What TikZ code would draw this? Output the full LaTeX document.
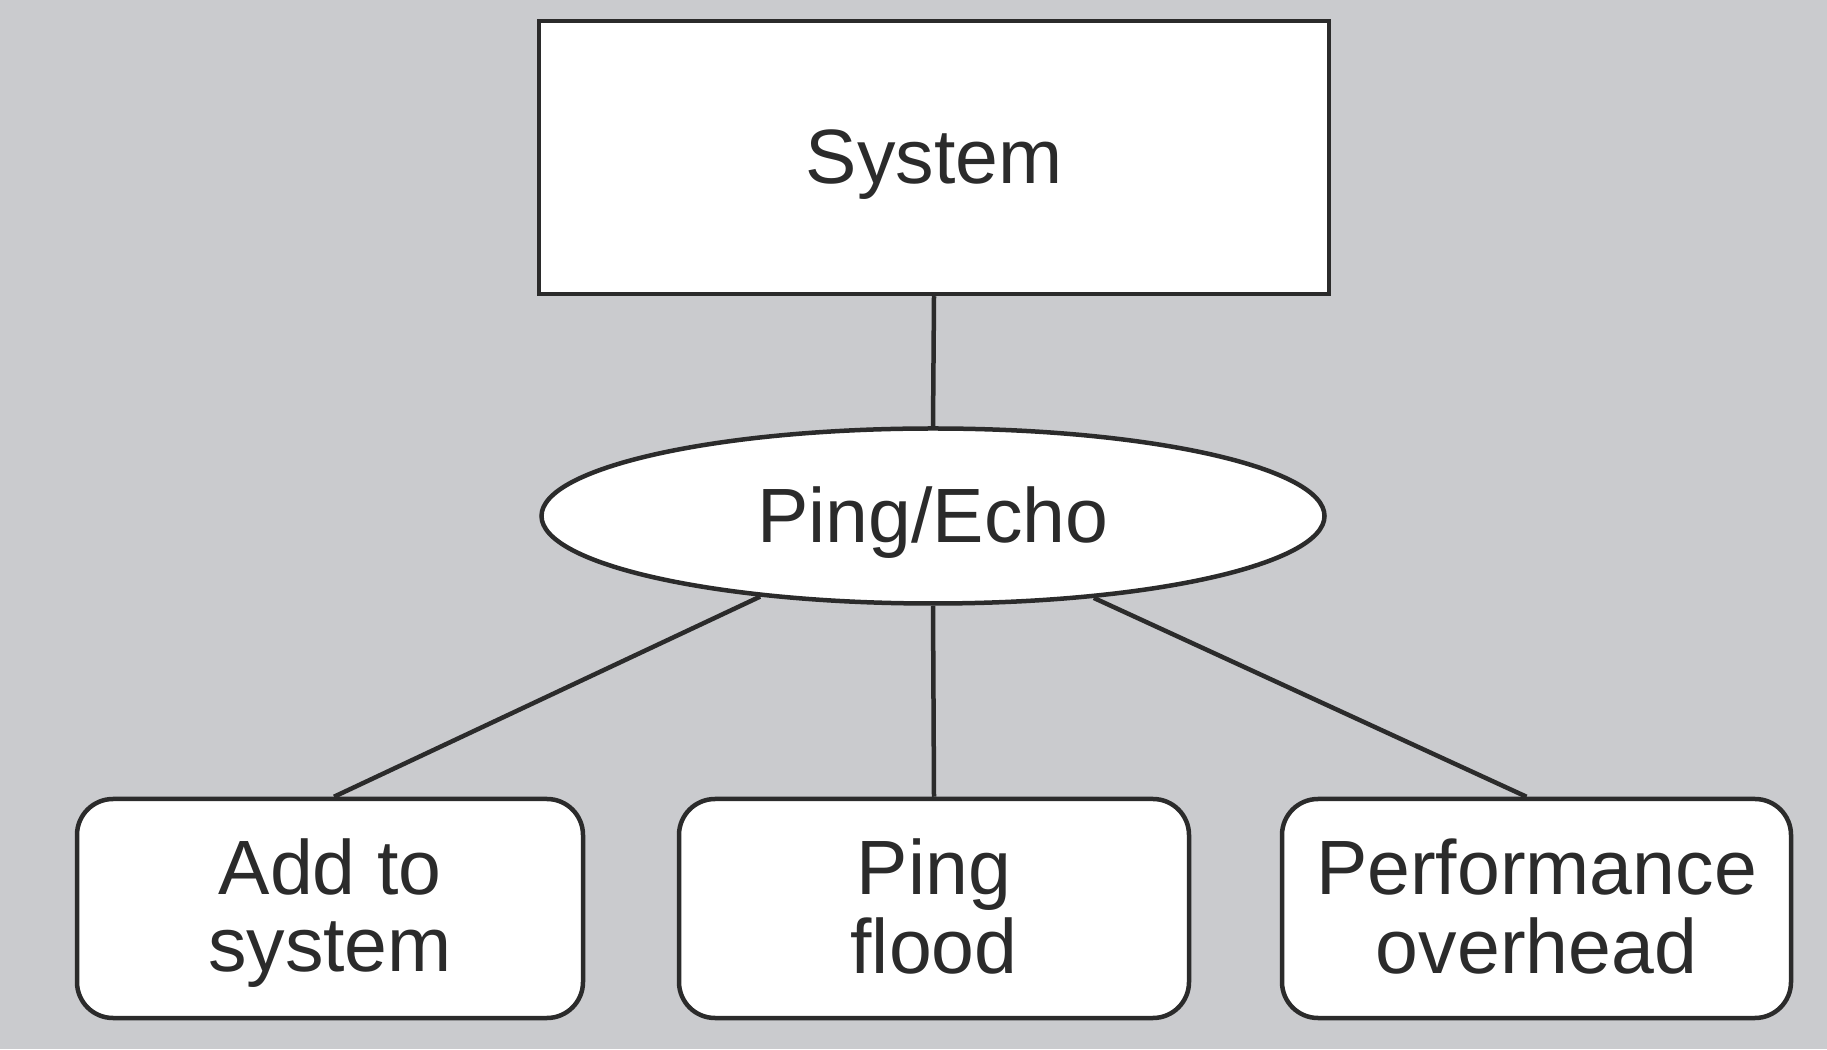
\documentclass[tikz,border=0pt]{standalone}
\usepackage{fontspec}
\setmainfont{Liberation Sans}
\usetikzlibrary{shapes.geometric}
\definecolor{bg}{HTML}{CACBCE}
\definecolor{ln}{HTML}{2B2B2B}
\newcommand{\twolines}[2]{\begin{tabular}[t]{@{}c@{}}#1\\#2\end{tabular}}
\tikzset{
  every node/.style={font=\fontsize{77}{77}\selectfont, text=ln},
  sysbox/.style={draw=ln, line width=4.5pt, fill=white, minimum width=790pt, minimum height=273pt, inner sep=0pt, text height=60pt, text depth=7pt},
  ellnode/.style={ellipse, draw=ln, line width=4.5pt, fill=white, minimum width=783pt, minimum height=175pt, inner sep=0pt, text height=60pt, text depth=7pt},
  leafbox/.style={draw=ln, line width=4.5pt, fill=white, rounded corners=36pt, minimum height=219pt, inner sep=0pt, text height=54pt, text depth=81pt},
  conn/.style={draw=ln, line width=4.5pt}
}
\begin{document}
\begin{tikzpicture}[x=1pt,y=1pt]
\fill[bg] (0,0) rectangle (1827,1049);
\useasboundingbox (0,0) rectangle (1827,1049);
\node[sysbox] (sys) at (934,891.5) {System};
\node[ellnode] (ping) at (933,533) {Ping/Echo};
\node[leafbox, minimum width=506pt] (add) at (330,140.5) {\twolines{Add to}{system}};
\node[leafbox, minimum width=510pt] (flood) at (934,140.5) {\twolines{Ping}{flood}};
\node[leafbox, minimum width=509pt] (perf) at (1536.5,140.5) {\twolines{Performance}{overhead}};
\draw[conn] (sys.south) -- (ping.north);
\draw[conn] (ping.205) -- ([xshift=4pt]add.north);
\draw[conn] (ping.south) -- (flood.north);
\draw[conn] (ping.333) -- ([xshift=-10pt]perf.north);
\end{tikzpicture}
\end{document}
